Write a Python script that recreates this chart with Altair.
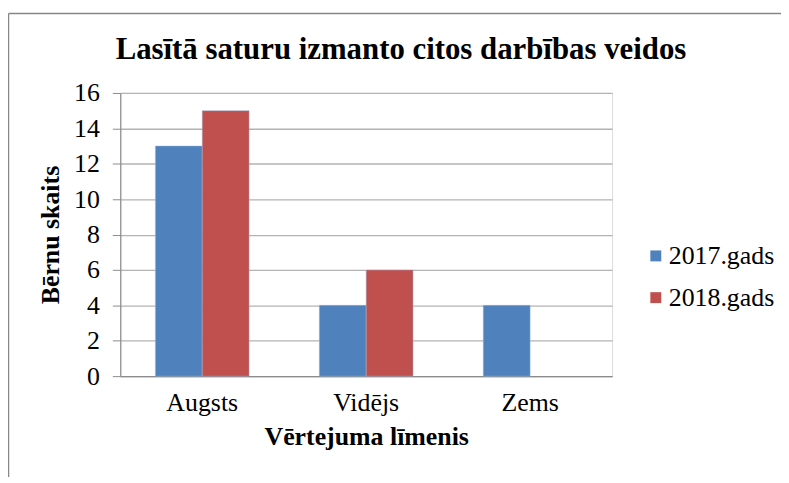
import altair as alt
import pandas as pd

categories = ["Augsts", "Vidējs", "Zems"]
series = ["2017.gads", "2018.gads"]
values_2017 = [13, 4, 4]
values_2018 = [15, 6, 0]
y_ticks = [0, 2, 4, 6, 8, 10, 12, 14, 16]
colors = ["#4F81BD", "#C0504D"]
title_text = "Lasītā saturu izmanto citos darbības veidos"

rows = []
for c, v in zip(categories, values_2017):
    rows.append({"kat": c, "gads": series[0], "v": v})
for c, v in zip(categories, values_2018):
    rows.append({"kat": c, "gads": series[1], "v": v})
df = pd.DataFrame(rows)

FONT = "Liberation Serif"

bars = alt.Chart(df).mark_bar(stroke="#9ab3d6", strokeWidth=0.8).encode(
    x=alt.X("kat:N", sort=categories,
            scale=alt.Scale(paddingInner=0, paddingOuter=0),
            axis=alt.Axis(title="Vērtejuma līmenis", labelAngle=0, ticks=False,
                          domain=True, domainColor="#8c8c8c", domainWidth=1.2,
                          labelFont=FONT, labelFontSize=26, labelColor="black",
                          labelPadding=14, titleFont=FONT, titleFontSize=26,
                          titleFontWeight="bold", titleColor="black", titlePadding=8)),
    xOffset=alt.XOffset("gads:N", sort=series,
                        scale=alt.Scale(paddingOuter=0.75, paddingInner=0)),
    y=alt.Y("v:Q", scale=alt.Scale(domain=[0, 16], nice=False),
            axis=alt.Axis(title="Bērnu skaits", values=y_ticks, tickSize=8,
                          tickColor="#8c8c8c", domainColor="#8c8c8c", domainWidth=1.2,
                          grid=True, gridColor="#b3b3b3", gridWidth=1.3,
                          labelFont=FONT, labelFontSize=26, labelColor="black",
                          labelPadding=13, titleFont=FONT, titleFontSize=26,
                          titleFontWeight="bold", titleColor="black", titlePadding=10)),
    color=alt.Color("gads:N", sort=series,
                    scale=alt.Scale(domain=series, range=colors),
                    legend=alt.Legend(title=None, orient="none", legendX=526, legendY=151,
                                      symbolType="square", symbolSize=121,
                                      symbolStrokeWidth=0, labelFont=FONT,
                                      labelFontSize=26, labelColor="black",
                                      labelOffset=0, rowPadding=16, padding=0)),
    strokeOpacity=alt.condition("datum.v == 0", alt.value(0), alt.value(0.6)),
)

frame_df = pd.DataFrame({"a": [0]})
frame_left = alt.Chart(frame_df).mark_rule(color="#878787", strokeWidth=1.5).encode(
    x=alt.value(-112.5), y=alt.value(-80), y2=alt.value(420))
frame_top = alt.Chart(frame_df).mark_rule(color="#878787", strokeWidth=1.5).encode(
    x=alt.value(-112.5), x2=alt.value(700), y=alt.value(-80))

title_df = pd.DataFrame({"t": [title_text]})
title = alt.Chart(title_df).mark_text(
    font=FONT, fontSize=31, fontWeight="bold", color="black",
    align="center", baseline="alphabetic").encode(
    text="t:N", x=alt.value(282.5), y=alt.value(-34))

chart = alt.layer(bars, frame_left, frame_top, title).properties(
    width=495, height=285,
    autosize=alt.AutoSizeParams(type="none"),
    padding={"left": 113, "top": 84, "right": 170, "bottom": 100},
).configure_view(stroke=None).configure(background="white")

chart.save("out.html", embed_options={"renderer": "svg", "actions": False})
